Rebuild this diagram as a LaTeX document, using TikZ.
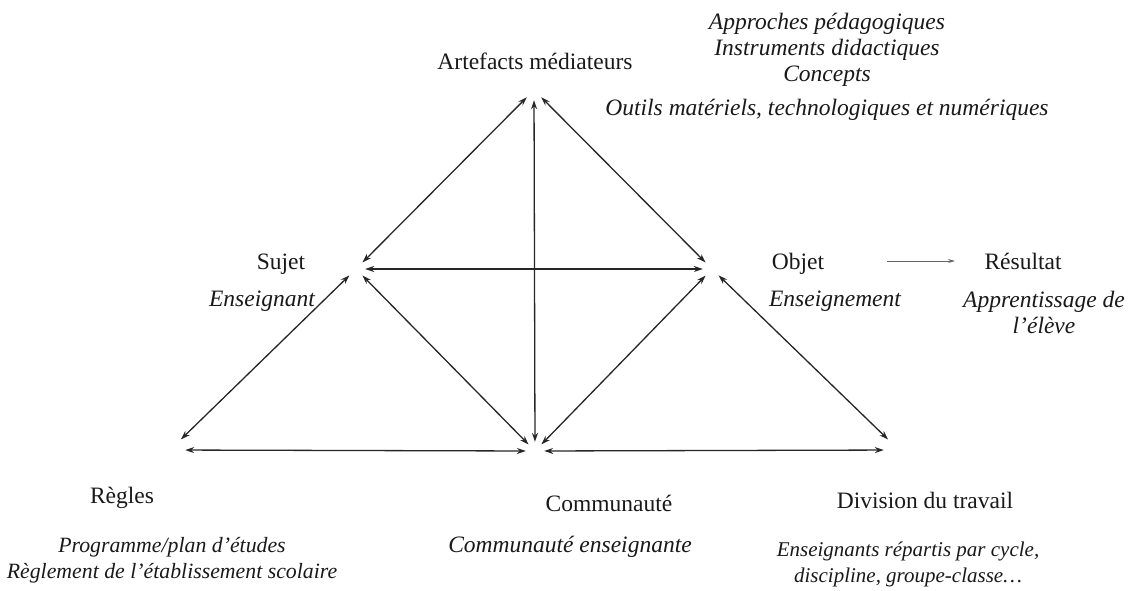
\documentclass[tikz,border=0pt]{standalone}
\usepackage{fontspec}
\setmainfont{Liberation Serif}
\usetikzlibrary{arrows.meta}

\tikzset{
  vertex/.style={circle, inner sep=0pt, minimum size=18pt},
  wide vertex/.style={circle, inner sep=0pt, minimum size=30pt},
  link/.style={{Stealth[length=9pt,width=6pt]}-{Stealth[length=9pt,width=6pt]}, line width=1.3pt, draw=black!85},
  titre/.style={inner sep=0pt, anchor=base, text=black!90, font=\fontsize{23.5}{26}\selectfont},
  detail/.style={titre, align=center, font=\fontsize{23.5}{26}\selectfont\itshape},
  small detail/.style={detail, font=\fontsize{#1}{25.5}\selectfont\itshape}
}

\begin{document}
\begin{tikzpicture}[x=1pt, y=-1pt]
        \useasboundingbox (0,0) rectangle (1131,590);

        \node[vertex, minimum size=20pt] (Art) at (534,90) {};
        \node[vertex] (Suj) at (356,269) {};
        \node[vertex] (Obj) at (712,269) {};
        \node[wide vertex] (Reg) at (170,450) {};
        \node[vertex] (Com) at (535,451) {};
        \node[wide vertex] (Div) at (899,450) {};

        \draw[link] (Art) -- (Suj);
        \draw[link] (Art) -- (Obj);
        \draw[link] (Art) -- (Com);
        \draw[link] (Suj) -- (Obj);
        \draw[link] (Suj) -- (Reg);
        \draw[link] (Suj) -- (Com);
        \draw[link] (Obj) -- (Com);
        \draw[link] (Obj) -- (Div);
        \draw[link] (Reg) -- (Com);
        \draw[link] (Com) -- (Div);

        % anchor base = baseline of the last line
        \node[titre] (tArt) at (535,69) {Artefacts médiateurs};
        \node[detail] (dArt) at (827,115) {Approches pédagogiques\\Instruments didactiques\\Concepts\\[8pt]Outils matériels, technologiques et numériques};

        \node[titre] (tSuj) at (281,269) {Sujet};
        \node[detail] (dSuj) at (262,306) {Enseignant};

        \node[titre] (tObj) at (798,269) {Objet};
        \node[detail] (dObj) at (835,306) {Enseignement};

        \node[titre] (tRes) at (1023,269) {Résultat};
        \node[detail] (dRes) at (1044,333) {Apprentissage de\\l’élève};

        \coordinate (r0) at (887,261);
        \coordinate (r1) at (955,261);
        \draw[-{Stealth[length=7pt,width=4pt]}, line width=0.8pt, draw=black!60] (r0) -- (r1);

        \node[titre] (tReg) at (122,503) {Règles};
        \node[small detail=21.8] (dReg) at (172,578) {Programme/plan d’études\\Règlement de l’établissement scolaire};

        \node[titre] (tCom) at (609,511) {Communauté};
        \node[detail] (dCom) at (570,552) {Communauté enseignante};

        \node[titre] (tDiv) at (925,508) {Division du travail};
        \node[small detail=21] (dDiv) at (908,582) {Enseignants répartis par cycle,\\discipline, groupe-classe…};
    \end{tikzpicture}
\end{document}
